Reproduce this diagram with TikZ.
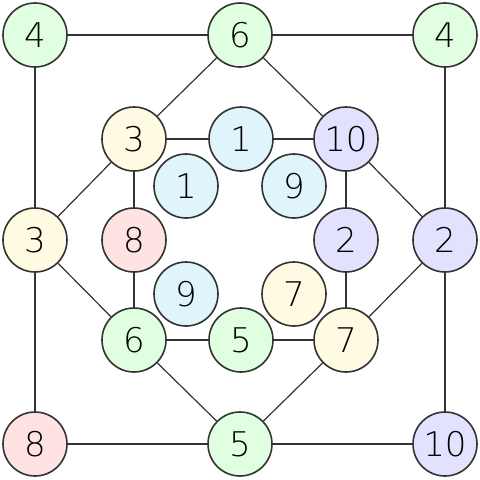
\documentclass[tikz,border=0pt]{standalone}
\usepackage{fontspec}
\setmainfont{DejaVu Sans ExtraLight}
\usetikzlibrary{backgrounds}
\definecolor{cgreen}{RGB}{224,255,224}
\definecolor{cyellow}{RGB}{255,250,226}
\definecolor{cpink}{RGB}{255,226,226}
\definecolor{cblue}{RGB}{224,244,252}
\definecolor{cviolet}{RGB}{226,226,255}
\definecolor{cline}{RGB}{51,51,51}
\tikzset{
  vtx/.style={circle, draw=cline, line width=1.6pt, minimum size=64pt, inner sep=0pt,
    font=\fontsize{34}{34}\selectfont},
  edge/.style={draw=cline, line width=1.5pt}
}
\begin{document}
\begin{tikzpicture}[x=1pt,y=-1pt]
\useasboundingbox (0,0) rectangle (480,480);
% outer
\node[vtx, fill=cgreen]  (o1) at (35,35)  {4};
\node[vtx, fill=cgreen]  (o2) at (240,35) {6};
\node[vtx, fill=cgreen]  (o3) at (445,35) {4};
\node[vtx, fill=cyellow] (o4) at (35,240) {3};
\node[vtx, fill=cviolet] (o5) at (445,240) {2};
\node[vtx, fill=cpink]   (o6) at (35,444) {8};
\node[vtx, fill=cgreen]  (o7) at (240,444) {5};
\node[vtx, fill=cviolet] (o8) at (445,444) {10};
% middle
\node[vtx, fill=cyellow] (m1) at (134,139) {3};
\node[vtx, fill=cblue]   (m2) at (241,139) {1};
\node[vtx, fill=cviolet] (m3) at (346,139) {10};
\node[vtx, fill=cpink]   (m4) at (134,240) {8};
\node[vtx, fill=cviolet] (m5) at (346,240) {2};
\node[vtx, fill=cgreen]  (m6) at (134,340) {6};
\node[vtx, fill=cgreen]  (m7) at (241,340) {5};
\node[vtx, fill=cyellow] (m8) at (346,340) {7};
% inner
\node[vtx, fill=cblue]   (i1) at (186,186) {1};
\node[vtx, fill=cblue]   (i2) at (294,186) {9};
\node[vtx, fill=cblue]   (i3) at (186,294) {9};
\node[vtx, fill=cyellow] (i4) at (294,294) {7};
\begin{pgfonlayer}{background}
\fill[white] (0,0) rectangle (480,480);
\draw[edge] (o1) -- (o2) (o2) -- (o3) (o1) -- (o4) (o4) -- (o6)
  (o6) -- (o7) (o7) -- (o8) (o3) -- (o5) (o5) -- (o8);
\draw[edge, line width=1.2pt] (o2) -- (m1) (o2) -- (m3) (o4) -- (m1) (o4) -- (m6)
  (o5) -- (m3) (o5) -- (m8) (o7) -- (m6) (o7) -- (m8);
\draw[edge] (m1) -- (m2) (m2) -- (m3) (m1) -- (m4) (m4) -- (m6)
  (m6) -- (m7) (m7) -- (m8) (m3) -- (m5) (m5) -- (m8);
\end{pgfonlayer}
\end{tikzpicture}
\end{document}
